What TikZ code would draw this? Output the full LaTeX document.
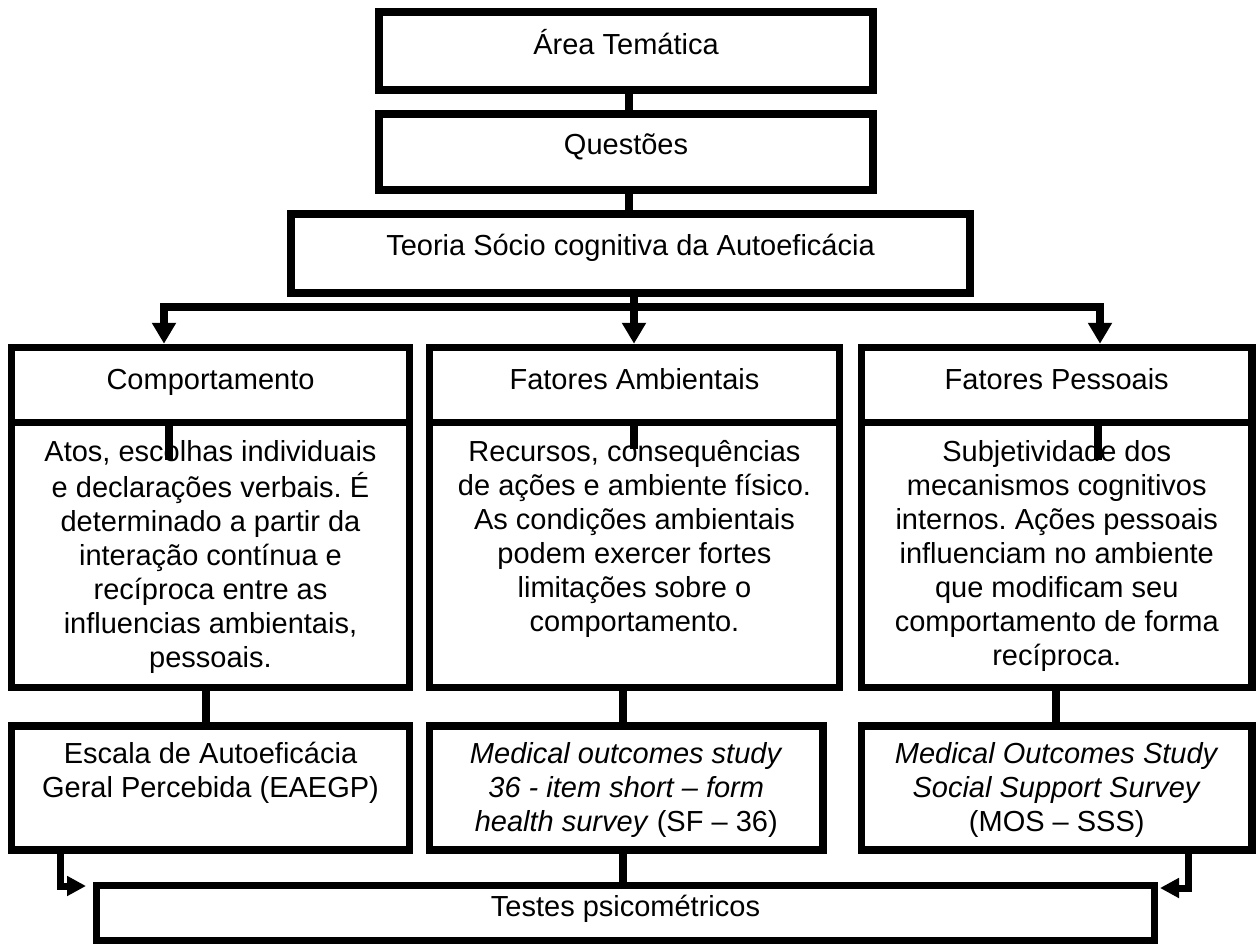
\documentclass[tikz,border=0pt]{standalone}
\usepackage{fontspec}
\setmainfont{Liberation Sans}
\usetikzlibrary{arrows.meta}
\newcommand\diagfont{\fontsize{29pt}{34pt}\selectfont}
\frenchspacing
\begin{document}
\begin{tikzpicture}[x=1pt,y=-1pt,
  bx/.style={draw, rectangle, inner sep=0pt, line width=7.5pt, font=\diagfont},
  topbx/.style={bx, line width=8pt, minimum width=494pt},
  txt/.style={inner sep=0pt, align=center, font=\diagfont, anchor=north},
  ln/.style={line width=8pt},
  arrA/.style={line width=8pt, -{Triangle[length=21pt,width=23pt]}},
  arrB/.style={line width=7pt, -{Triangle[length=19pt,width=19pt]}}
]
\useasboundingbox (0,0) rectangle (1256,944);

% top chain
\node[topbx, minimum height=78pt, text height=14pt, text depth=6pt] (b1) at (626,51) {Área Temática};
\node[topbx, minimum height=76pt, text height=13pt, text depth=7pt] (b2) at (626,152) {Questões};
\node[bx, line width=8pt, minimum width=679pt, minimum height=79pt, text height=12pt, text depth=9pt] (b3) at (630.5,253.5) {Teoria Sócio cognitiva da Autoeficácia};

% headers
\node[bx, minimum width=398pt, minimum height=75pt, text height=14pt, text depth=6pt] (hL) at (210.5,385) {Comportamento};
\node[bx, minimum width=410pt, minimum height=75pt, text height=14pt, text depth=6pt] (hM) at (634.5,385) {Fatores Ambientais};
\node[bx, minimum width=390.5pt, minimum height=75pt, text height=14pt, text depth=6pt] (hR) at (1056.75,385) {Fatores Pessoais};

% bodies
\node[bx, minimum width=398pt, minimum height=265pt] (bL) at (210.5,555) {};
\node[bx, minimum width=410pt, minimum height=265pt] (bM) at (634.5,555) {};
\node[bx, minimum width=390.5pt, minimum height=265pt] (bR) at (1056.75,555) {};

% stubs through the body text
\coordinate (sL) at (169,460);
\coordinate (sM) at (634,449);
\coordinate (sR) at (1098,460);
\draw[ln] (hL.south -| sL) -- (sL);
\draw[ln] (hM.south -| sM) -- (sM);
\draw[ln] (hR.south -| sR) -- (sR);

\node[txt] (tL) at (210.5,437.2) {\strut Atos, escolhas individuais\\ e declarações verbais. É\\ determinado a partir da\\ interação contínua e\\ recíproca entre as\\ influencias ambientais,\\ pessoais.};
\node[txt] (tM) at (634.5,437.2) {\strut Recursos, consequências\\ de ações e ambiente físico.\\ As condições ambientais\\ podem exercer fortes\\ limitações sobre o\\ comportamento.};
\node[txt] (tR) at (1056.75,437.2) {\strut Subjetividade dos\\ mecanismos cognitivos\\ internos. Ações pessoais\\ influenciam no ambiente\\ que modificam seu\\ comportamento de forma\\ recíproca.};

% lower boxes
\node[bx, minimum width=398pt, minimum height=124pt] (lL) at (210.5,788) {};
\node[bx, minimum width=393.5pt, minimum height=124pt] (lM) at (626.25,788) {};
\node[bx, minimum width=390.5pt, minimum height=124pt] (lR) at (1056.75,788) {};
\node[txt] (uL) at (210.5,739.2) {\strut Escala de Autoeficácia\\ Geral Percebida (EAEGP)};
\node[txt] (uM) at (626.25,739.2) {\strut\textit{Medical outcomes study}\\ \textit{36 - item short – form}\\ \textit{health survey} (SF – 36)};
\node[txt] (uR) at (1056.75,739.2) {\strut\textit{Medical Outcomes Study}\\ \textit{Social Support Survey}\\ (MOS – SSS)};

% bottom box
\node[bx, line width=7pt, minimum width=1058pt, minimum height=55pt, text height=13pt, text depth=7pt] (tt) at (625.5,913) {Testes psicométricos};

% connectors top chain
\coordinate (c1) at (629,0);
\draw[ln] (b1.south -| c1) -- (b2.north -| c1);
\draw[ln] (b2.south -| c1) -- (b3.north -| c1);

% split
\coordinate (jL) at (164,307);
\coordinate (jM) at (634,307);
\coordinate (jR) at (1100,307);
\draw[ln] (b3.south -| jM) -- (jM);
\draw[arrA] (jM) -- (jL) -- (hL.north -| jL);
\draw[arrA] (jM) -- (jR) -- (hR.north -| jR);
\draw[arrA] (jM) -- (hM.north -| jM);

% bodies to lower boxes
\coordinate (vL) at (205.5,0);
\coordinate (vM) at (623,0);
\coordinate (vR) at (1056,0);
\draw[ln] (bL.south -| vL) -- (lL.north -| vL);
\draw[ln] (bM.south -| vM) -- (lM.north -| vM);
\draw[ln] (bR.south -| vR) -- (lR.north -| vR);

% lower boxes to bottom box
\coordinate (kL) at (60,886);
\coordinate (kR) at (1188,888);
\draw[arrB, shorten >=7pt] (lL.south -| kL) -- (kL) -- (tt.west |- kL);
\draw[arrB, shorten >=2pt] (lR.south -| kR) -- (kR) -- (tt.east |- kR);
\draw[ln] (lM.south -| vM) -- (tt.north -| vM);
\end{tikzpicture}
\end{document}
